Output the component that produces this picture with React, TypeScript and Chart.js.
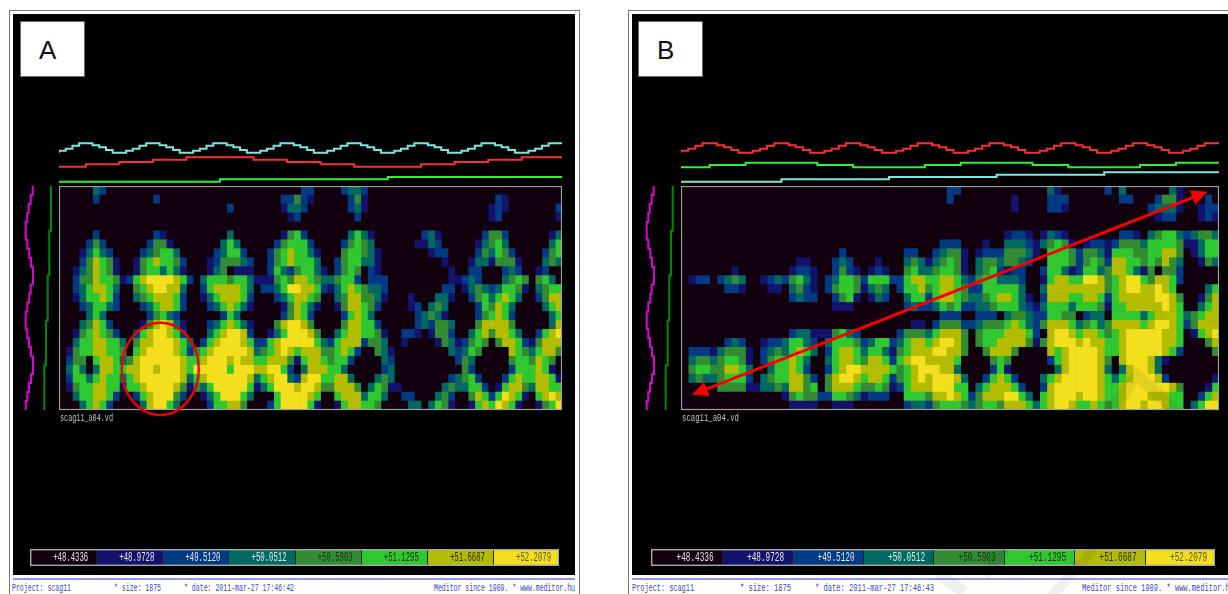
import React, { useEffect, useRef } from "react";
import { Chart, registerables } from "chart.js";

Chart.register(...registerables);

const palette = ["#13000f", "#13136e", "#033a84", "#006a62", "#338c33", "#30c830", "#b4bc00", "#f3df1e"];
const scaleLabels = ["+48.4336", "+48.9728", "+49.5120", "+50.0512", "+50.5903", "+51.1295", "+51.6687", "+52.2079"];
const labelColors = ["#e8e8e8", "#e8e8e8", "#e8e8e8", "#e8e8e8", "#143014", "#0c300c", "#2a2a00", "#56561c"];

const heatA = [
  "00000 32000 00000 00000 00000 00000 00000 02200 00233 20000 00000 00000 00000 00000 00000",
  "00000 20000 00002 00000 00000 00000 00022 42100 00024 10000 00000 00000 00000 21000 00000",
  "00000 00000 00000 00000 00000 20000 00013 32000 00023 10000 00000 00000 00001 21000 00002",
  "00000 00000 00000 00000 00000 00000 00001 20000 00002 00000 00000 00000 00001 20000 00001",
  "00000 00000 00000 00000 00000 00000 00000 00000 00000 00000 00000 00000 00000 00000 00000",
  "00000 20000 00002 10000 00000 30000 00014 52000 00035 31000 00002 31000 00024 42000 00013",
  "00002 42000 00024 41000 00003 53000 00245 55200 00245 43000 00011 32000 00134 53000 00035",
  "00013 53200 00234 55300 00023 55200 02456 55310 00455 43100 00000 12200 00243 54200 00245",
  "00024 65410 01456 55420 00124 44320 02456 55530 02455 33100 00000 00100 01331 44410 00343",
  "00134 65410 01455 35310 00134 01110 02532 45531 02454 02100 00000 00010 02200 02320 01200",
  "00244 65541 25677 77652 03555 45531 11454 66543 34552 02220 00000 00011 23200 03454 04530",
  "00235 66530 04567 76630 02566 66530 22357 76652 13565 43320 00000 00220 13432 35541 03455",
  "00135 56520 03456 66520 01356 66520 00235 66540 03466 44310 00100 03310 02453 56530 02466",
  "00023 55320 00235 66520 00235 65310 00014 65310 01466 54200 00120 34300 00254 65300 00356",
  "00003 53000 00024 53200 00002 53000 00024 65200 00256 53000 00023 43100 00245 65200 00035",
  "00034 65200 00146 76310 00235 65310 00467 76400 00466 55200 00023 24430 00466 66400 00036",
  "00145 65420 02567 76520 00356 77620 01357 77640 03566 55410 02210 14420 03564 66530 02567",
  "00355 66553 04667 77653 02567 77652 25677 77753 25666 24430 01000 01431 24540 46652 14666",
  "01455 66554 05677 77652 45677 77763 45676 56664 45652 00431 00000 00032 35400 00654 35664",
  "02440 56653 46777 77765 56777 67665 56664 15665 45520 00032 00000 00002 43000 00455 46540",
  "03530 36655 66776 77765 77777 57776 67752 03666 55300 00023 00000 00000 42000 00255 56510",
  "02553 56553 56777 77763 56777 77763 56773 26775 56630 00343 00000 00023 45200 02565 56651",
  "01455 66551 55677 77641 43577 77751 35777 67764 46664 03541 10000 00343 35520 15664 36655",
  "00355 66520 02567 77420 01357 77530 00577 77650 05666 35530 02200 03420 04652 57651 05676",
  "00035 65200 00367 75300 00255 66400 02577 77510 01566 55400 00330 35410 01565 76510 01457",
];

const heatB = [
  "00000 00000 00000 00000 00000 00000 00000 00220 00000 00000 03100 00002 03000 00031 00000",
  "00000 00000 00000 00000 00000 00000 00000 00200 00000 01000 02220 00000 02200 02441 00020",
  "00000 00000 00000 00000 00000 00000 00000 00000 00000 01000 02210 00000 00000 23331 00122",
  "00000 00000 00000 00000 00000 00000 00000 00000 00000 00000 00000 00000 00000 01220 00121",
  "00000 00000 00000 00000 00000 00000 00000 00000 00000 00000 00000 00000 00000 00000 00000",
  "00000 00000 00000 00000 00000 00000 00000 00000 00000 12210 13210 00000 02210 34553 23443",
  "00000 00000 00000 00000 00000 00000 00000 02220 00100 33321 34541 01221 24443 55554 11355",
  "00000 00000 00000 00000 00200 00000 02200 23441 01222 44431 05554 24431 55544 55664 01355",
  "00000 00000 00000 01100 02320 00100 03431 34541 03443 44320 05554 24542 66554 54643 00143",
  "00000 00100 00000 12210 02421 01210 04533 45541 03452 12200 25531 25534 66531 40442 00000",
  "01220 23430 01232 45310 23554 25552 25665 56653 24553 33200 15665 57764 56775 46652 00000",
  "00000 02210 00110 34210 24554 13430 25564 56654 22555 55300 36666 66664 56776 67650 00035",
  "00000 00000 00000 23220 02451 01320 03552 56654 33456 65310 26665 56652 56666 67764 00146",
  "00000 00000 00000 00000 01110 00000 02322 35452 23345 55321 35553 55541 55666 66765 00356",
  "00000 00000 00000 00000 00000 00000 00000 02220 02220 34432 25544 02330 55553 56665 34566",
  "00000 00000 00000 00000 00000 00000 00110 24442 23444 56532 46665 34534 66665 67765 24666",
  "00000 00000 00000 23311 14532 00000 24443 56664 04555 66652 06776 56654 56777 77665 01567",
  "00000 02320 01223 55320 35554 23552 35665 67764 04556 66641 46777 67665 56777 77665 00046",
  "02221 34441 02343 56530 25665 35531 45666 77664 00466 64000 06567 77765 56777 77652 00004",
  "03443 45541 02455 65300 35665 46652 56776 66650 00045 40000 02567 77764 06777 63100 00000",
  "04554 46653 00355 65200 25677 66665 45677 76630 00025 10000 00367 77763 03677 63000 00000",
  "03433 45552 03455 66420 46776 56652 45676 77763 00256 52000 35677 77765 35677 76200 00001",
  "00000 44441 13343 66450 46665 44541 25666 77755 03566 65200 26777 77765 56777 77764 00015",
  "00000 00000 00001 45442 25543 12220 05554 66765 24666 77530 56777 67765 56777 66655 00256",
  "00000 00000 00000 11110 01110 00000 02332 45554 34554 66653 56776 55654 56776 77655 03577",
];

const waveTop = [
  33.3, 35.3, 37.3, 40.3, 42.7, 42.7, 40.7, 38.7, 36, 33.3,
  33.3, 35.3, 37.3, 40.3, 42.7, 42.7, 40.7, 38.7, 36, 33.3,
  33.3, 35.3, 37.3, 40.3, 42.7, 42.7, 40.7, 38.7, 36, 33.3,
  33.3, 35.3, 37.3, 40.3, 42.7, 42.7, 40.7, 38.7, 36, 33.3,
  33.3, 35.3, 37.3, 40.3, 42.7, 42.7, 40.7, 38.7, 36, 33.3,
  33.3, 35.3, 37.3, 40.3, 42.7, 42.7, 40.7, 38.7, 36, 33.3,
  33.3, 35.3, 37.3, 40.3, 42.7, 42.7, 40.7, 38.7, 36, 33.3,
  33.3, 35.3, 37.3, 40.3, 42.7,
];
const redA = [
  19.3, 19.3, 19.3, 19.3, 19.3, 21.7, 21.7, 21.7, 21.7, 21.7, 24, 24, 24, 24, 24,
  26.3, 26.3, 26.3, 26.3, 26.3, 28.7, 28.7, 28.7, 28.7, 28.7, 28.7, 28.7, 28.7, 28.7, 28.7,
  26.3, 26.3, 26.3, 26.3, 26.3, 24, 24, 24, 24, 24, 21.7, 21.7, 21.7, 21.7, 21.7,
  19.3, 19.3, 19.3, 19.3, 19.3, 19.3, 19.3, 19.3, 19.3, 19.3, 21.7, 21.7, 21.7, 21.7, 21.7,
  24, 24, 24, 24, 24, 26.3, 26.3, 26.3, 26.3, 26.3, 28.7, 28.7, 28.7, 28.7, 28.7,
];
const greenA = [
  4.3, 4.3, 4.3, 4.3, 4.3, 4.3, 4.3, 4.3, 4.3, 4.3, 4.3, 4.3, 4.3, 4.3, 4.3, 4.3, 4.3, 4.3, 4.3, 4.3, 4.3, 4.3, 4.3, 4.3, 4.3,
  6.7, 6.7, 6.7, 6.7, 6.7, 6.7, 6.7, 6.7, 6.7, 6.7, 6.7, 6.7, 6.7, 6.7, 6.7, 6.7, 6.7, 6.7, 6.7, 6.7, 6.7, 6.7, 6.7, 6.7, 6.7,
  9, 9, 9, 9, 9, 9, 9, 9, 9, 9, 9, 9, 9, 9, 9, 9, 9, 9, 9, 9, 9, 9, 9, 9, 9,
];
const greenB = [
  18.7, 18.7, 18.7, 18.7, 18.7, 21, 21, 21, 21, 21, 23.3, 23.3, 23.3, 23.3, 23.3,
  23.3, 23.3, 23.3, 23.3, 23.3, 21, 21, 21, 21, 21, 18.7, 18.7, 18.7, 18.7, 18.7,
  18.7, 18.7, 18.7, 18.7, 18.7, 21, 21, 21, 21, 21, 23.3, 23.3, 23.3, 23.3, 23.3,
  23.3, 23.3, 23.3, 23.3, 23.3, 21, 21, 21, 21, 21, 18.7, 18.7, 18.7, 18.7, 18.7,
  18.7, 18.7, 18.7, 18.7, 18.7, 21, 21, 21, 21, 21, 23.3, 23.3, 23.3, 23.3, 23.3,
];
const cyanB = [
  4.3, 4.3, 4.3, 4.3, 4.3, 4.3, 4.3, 4.3, 4.3, 4.3, 4.3, 4.3, 4.3, 4.3, 4.3,
  6.7, 6.7, 6.7, 6.7, 6.7, 6.7, 6.7, 6.7, 6.7, 6.7, 6.7, 6.7, 6.7, 6.7, 6.7,
  9, 9, 9, 9, 9, 9, 9, 9, 9, 9, 9, 9, 9, 9, 9,
  11.3, 11.3, 11.3, 11.3, 11.3, 11.3, 11.3, 11.3, 11.3, 11.3, 11.3, 11.3, 11.3, 11.3, 11.3,
  13.7, 13.7, 13.7, 13.7, 13.7, 13.7, 13.7, 13.7, 13.7, 13.7, 13.7, 13.7, 13.7, 13.7, 13.7,
];
const magentaA = [12.7, 10.7, 8.7, 7.3, 5.7, 5.7, 7.3, 9.3, 11, 13, 13, 10.7, 9.3, 7.3, 5.7, 5.7, 7.3, 9, 11, 13, 13, 11, 9, 7.3, 5.7];
const sideGreenA = [31, 31, 31, 31, 31, 29.3, 29.3, 29.3, 29.3, 29.3, 27.7, 27.7, 27.7, 27.7, 27.7, 26, 26, 26, 26, 26, 24.3, 24.3, 24.3, 24.3, 24.3];
const sideGreenB = [31.7, 31.7, 31.7, 31.7, 31.7, 30, 30, 30, 30, 30, 28.3, 28.3, 28.3, 28.3, 28.3, 26.7, 26.7, 26.7, 26.7, 26.7, 24.7, 24.7, 24.7, 24.7, 24.7];

const footerA = ["Project: scag11", "* size: 1875", "* date: 2011-mar-27 17:46:42", "Meditor since 1989. * www.meditor.hu"];
const footerB = ["Project: scag11", "* size: 1875", "* date: 2011-mar-27 17:46:43", "Meditor since 1989. * www.meditor.hu"];

const COLS = 75;
const ROWS = 25;

function heatConfig(rows: string[], plotHeight: number, overlay: (c: any) => void): any {
  const grid = rows.map((r) => r.replace(/\s/g, ""));
  const labels = grid.map((_, i) => String(i));
  const datasets = [];
  for (let c = 0; c < COLS; c++) {
    datasets.push({
      data: grid.map(() => 1),
      backgroundColor: grid.map((r) => palette[Number(r[c])]),
      borderWidth: 0,
      barPercentage: 1,
      categoryPercentage: 1,
    });
  }
  return {
    type: "bar",
    data: { labels, datasets },
    options: {
      animation: false,
      responsive: false,
      indexAxis: "y",
      layout: { padding: { bottom: plotHeight } },
      plugins: { legend: { display: false }, tooltip: { enabled: false } },
      scales: {
        x: { display: false, stacked: true, min: 0, max: COLS },
        y: { display: false, stacked: true },
      },
    },
    plugins: [
      {
        id: "frameAndOverlay",
        afterDraw(chart: any) {
          const { ctx, chartArea: a } = chart;
          ctx.save();
          ctx.strokeStyle = "#a0a0a0";
          ctx.lineWidth = 1.2;
          ctx.strokeRect(a.left + 0.5, a.top + 0.5, a.right - a.left - 1, a.bottom - a.top - 1);
          ctx.restore();
          overlay(chart);
        },
      },
    ],
  };
}

const colPx = (chart: any, c: number) => chart.scales.x.getPixelForValue(c);
const rowPx = (chart: any, r: number) => chart.scales.y.getPixelForValue(r - 0.5);

function circleOverlay(chart: any) {
  const { ctx } = chart;
  const cx = colPx(chart, 15.1);
  const cy = rowPx(chart, 20.42);
  const rx = colPx(chart, 15.1 + 5.75) - cx;
  const ry = rowPx(chart, 20.42 + 5.15) - cy;
  ctx.save();
  ctx.strokeStyle = "#f00000";
  ctx.lineWidth = 2.4;
  ctx.beginPath();
  ctx.ellipse(cx, cy, rx, ry, 0, 0, Math.PI * 2);
  ctx.stroke();
  ctx.restore();
}

function arrowOverlay(chart: any) {
  const { ctx } = chart;
  const x1 = colPx(chart, 1.53);
  const y1 = rowPx(chart, 23.3);
  const x2 = colPx(chart, 73.4);
  const y2 = rowPx(chart, 0.64);
  const ang = Math.atan2(y2 - y1, x2 - x1);
  const head = (x: number, y: number, a: number) => {
    const len = 16;
    const w = 7.5;
    ctx.beginPath();
    ctx.moveTo(x, y);
    ctx.lineTo(x - len * Math.cos(a) - w * Math.sin(a), y - len * Math.sin(a) + w * Math.cos(a));
    ctx.lineTo(x - len * Math.cos(a) + w * Math.sin(a), y - len * Math.sin(a) - w * Math.cos(a));
    ctx.closePath();
    ctx.fill();
  };
  ctx.save();
  ctx.strokeStyle = "#f80000";
  ctx.fillStyle = "#f80000";
  ctx.lineWidth = 2.8;
  ctx.beginPath();
  ctx.moveTo(x1 + 12 * Math.cos(ang), y1 + 12 * Math.sin(ang));
  ctx.lineTo(x2 - 12 * Math.cos(ang), y2 - 12 * Math.sin(ang));
  ctx.stroke();
  head(x2, y2, ang);
  head(x1, y1, ang + Math.PI);
  ctx.restore();
}

function topConfig(series: { v: number[]; color: string }[]): any {
  return {
    type: "line",
    data: {
      datasets: series.map((s) => ({
        data: [...s.v.map((y, x) => ({ x, y })), { x: COLS, y: s.v[s.v.length - 1] }],
        borderColor: s.color,
        borderWidth: 2,
        stepped: "after",
        pointRadius: 0,
      })),
    },
    options: {
      animation: false,
      responsive: false,
      plugins: { legend: { display: false }, tooltip: { enabled: false } },
      scales: {
        x: { type: "linear", display: false, min: 0, max: COLS },
        y: { type: "linear", display: false, min: 0, max: 46 },
      },
    },
  };
}

function sideConfig(series: { v: number[]; color: string }[]): any {
  return {
    type: "scatter",
    data: {
      datasets: series.map((s) => ({
        data: s.v.flatMap((x, r) => [
          { x, y: r },
          { x, y: r + 1 },
        ]),
        borderColor: s.color,
        borderWidth: 2,
        showLine: true,
        pointRadius: 0,
      })),
    },
    options: {
      animation: false,
      responsive: false,
      plugins: { legend: { display: false }, tooltip: { enabled: false } },
      scales: {
        x: { type: "linear", display: false, min: 0, max: 38 },
        y: { type: "linear", display: false, min: 0, max: ROWS, reverse: true },
      },
    },
  };
}

function legendConfig(textWidth: number): any {
  return {
    type: "bar",
    data: {
      labels: ["scale"],
      datasets: scaleLabels.map((_, i) => ({
        data: [1],
        backgroundColor: palette[i],
        borderWidth: 0,
        barPercentage: 1,
        categoryPercentage: 1,
      })),
    },
    options: {
      animation: false,
      responsive: false,
      indexAxis: "y",
      plugins: { legend: { display: false }, tooltip: { enabled: false } },
      scales: {
        x: { display: false, stacked: true, min: 0, max: scaleLabels.length },
        y: { display: false, stacked: true },
      },
    },
    plugins: [
      {
        id: "scaleText",
        afterDraw(chart: any) {
          const { ctx, chartArea: a, scales } = chart;
          ctx.save();
          ctx.strokeStyle = "#202020";
          ctx.lineWidth = 1;
          for (let i = 1; i < scaleLabels.length; i++) {
            const px = Math.round(scales.x.getPixelForValue(i)) + 0.5;
            ctx.beginPath();
            ctx.moveTo(px, a.top);
            ctx.lineTo(px, a.bottom);
            ctx.stroke();
          }
          ctx.strokeStyle = "#a8a8a8";
          ctx.lineWidth = 1.4;
          ctx.strokeRect(a.left + 0.7, a.top + 0.7, a.right - a.left - 1.4, a.bottom - a.top - 1.4);
          ctx.font = '13px "Liberation Mono"';
          ctx.textAlign = "right";
          ctx.textBaseline = "middle";
          scaleLabels.forEach((t, i) => {
            ctx.fillStyle = labelColors[i];
            ctx.fillText(t, scales.x.getPixelForValue(i + 1) - 8, (a.top + a.bottom) / 2 + 0.5, textWidth);
          });
          ctx.restore();
        },
      },
    ],
  };
}

function Txt(props: { x: number; y: number; w: number; t: string; fs: number; color: string }) {
  const { x, y, w, t, fs, color } = props;
  const natural = t.length * 0.6 * fs;
  return (
    <div
      style={{
        position: "absolute",
        left: x,
        top: y,
        fontFamily: '"Liberation Mono", monospace',
        fontSize: fs,
        lineHeight: 1,
        color,
        whiteSpace: "pre",
        transformOrigin: "left top",
        transform: `scaleX(${w / natural})`,
      }}
    >
      {t}
    </div>
  );
}

function Cv(props: { r: React.RefObject<any>; x: number; y: number; w: number; h: number }) {
  const { r, x, y, w, h } = props;
  return <canvas ref={r} width={w} height={h} style={{ position: "absolute", left: x, top: y, width: w, height: h, display: "block" }} />;
}

export default function App() {
  const refs = [useRef<any>(null), useRef<any>(null), useRef<any>(null), useRef<any>(null), useRef<any>(null), useRef<any>(null), useRef<any>(null), useRef<any>(null)];

  useEffect(() => {
    document.body.style.margin = "0";
    document.body.style.background = "#fff";
    const cfgs = [
      topConfig([
        { v: waveTop, color: "#7fe6de" },
        { v: redA, color: "#f83030" },
        { v: greenA, color: "#30f030" },
      ]),
      sideConfig([
        { v: magentaA, color: "#e000d8" },
        { v: sideGreenA, color: "#008a00" },
      ]),
      heatConfig(heatA, 10, circleOverlay),
      legendConfig(35),
      topConfig([
        { v: waveTop, color: "#f83030" },
        { v: greenB, color: "#30f030" },
        { v: cyanB, color: "#7fe6de" },
      ]),
      sideConfig([
        { v: magentaA, color: "#e000d8" },
        { v: sideGreenB, color: "#008a00" },
      ]),
      heatConfig(heatB, 10, arrowOverlay),
      legendConfig(37),
    ];
    const charts = cfgs.map((cfg, i) => new Chart(refs[i].current, cfg));
    return () => charts.forEach((c) => c.destroy());
  }, []);

  const panelBox = (left: number, right: number, bl: number, br: number) => (
    <>
      <div style={{ position: "absolute", left, top: 10, width: right - left, height: 590, border: "1px solid #777", boxSizing: "border-box" }} />
      <div style={{ position: "absolute", left: bl, top: 14, width: br - bl, height: 561, background: "#000" }} />
      <div style={{ position: "absolute", left: bl, top: 578, width: br - bl, height: 2, background: "#9494f5" }} />
    </>
  );
  const labelBox = (left: number, t: string, lx: number) => (
    <>
      <div style={{ position: "absolute", left, top: 21, width: 65, height: 56, background: "#fff", border: "1px solid #666", boxSizing: "border-box" }} />
      <div style={{ position: "absolute", left: lx, top: 36, fontFamily: '"Liberation Sans", sans-serif', fontSize: 26, lineHeight: 1.1, color: "#111" }}>{t}</div>
    </>
  );

  return (
    <div style={{ position: "relative", width: 1228, height: 594, overflow: "hidden", background: "#fff", filter: "blur(0.35px)" }}>
      {panelBox(9, 580, 13, 575)}
      {panelBox(628, 1260, 632, 1228)}
      {labelBox(20, "A", 39)}
      {labelBox(638, "B", 657)}

      <Cv r={refs[0]} x={59} y={140} w={503} h={46} />
      <Cv r={refs[1]} x={20} y={186} w={38} h={224} />
      <Cv r={refs[2]} x={59} y={186} w={503} h={234} />
      <Cv r={refs[3]} x={30} y={549} w={529} h={17} />
      <Cv r={refs[4]} x={681} y={140} w={538} h={46} />
      <Cv r={refs[5]} x={641} y={186} w={38} h={224} />
      <Cv r={refs[6]} x={681} y={186} w={538} h={234} />
      <Cv r={refs[7]} x={651} y={549} w={564} h={17} />

      <Txt x={60} y={413} w={53} t="scag11_a04.vd" fs={11} color="#c4c4c4" />
      <Txt x={682} y={413} w={57} t="scag11_a04.vd" fs={11} color="#c4c4c4" />

      <Txt x={12} y={583} w={59} t={footerA[0]} fs={11} color="#3a46c8" />
      <Txt x={114} y={583} w={47} t={footerA[1]} fs={11} color="#3a46c8" />
      <Txt x={184} y={583} w={110} t={footerA[2]} fs={11} color="#3a46c8" />
      <Txt x={434} y={583} w={141} t={footerA[3]} fs={11} color="#3a46c8" />
      <Txt x={632} y={583} w={62} t={footerB[0]} fs={11} color="#3a46c8" />
      <Txt x={740} y={583} w={51} t={footerB[1]} fs={11} color="#3a46c8" />
      <Txt x={815} y={583} w={119} t={footerB[2]} fs={11} color="#3a46c8" />
      <Txt x={1082} y={583} w={152} t={footerB[3]} fs={11} color="#3a46c8" />

      <svg width={1228} height={594} style={{ position: "absolute", left: 0, top: 0, mixBlendMode: "multiply", pointerEvents: "none" }}>
        <polyline points="1100,425 1137,375 1190,425" fill="none" stroke="#efefef" strokeWidth={12} />
        <polyline points="938,574 964,592" fill="none" stroke="#f0f0f0" strokeWidth={12} />
        <polyline points="1006,549 985,575" fill="none" stroke="#efefef" strokeWidth={10} />
        <polyline points="1094,549 1050,598" fill="none" stroke="#f0f0f0" strokeWidth={10} />
      </svg>
    </div>
  );
}
